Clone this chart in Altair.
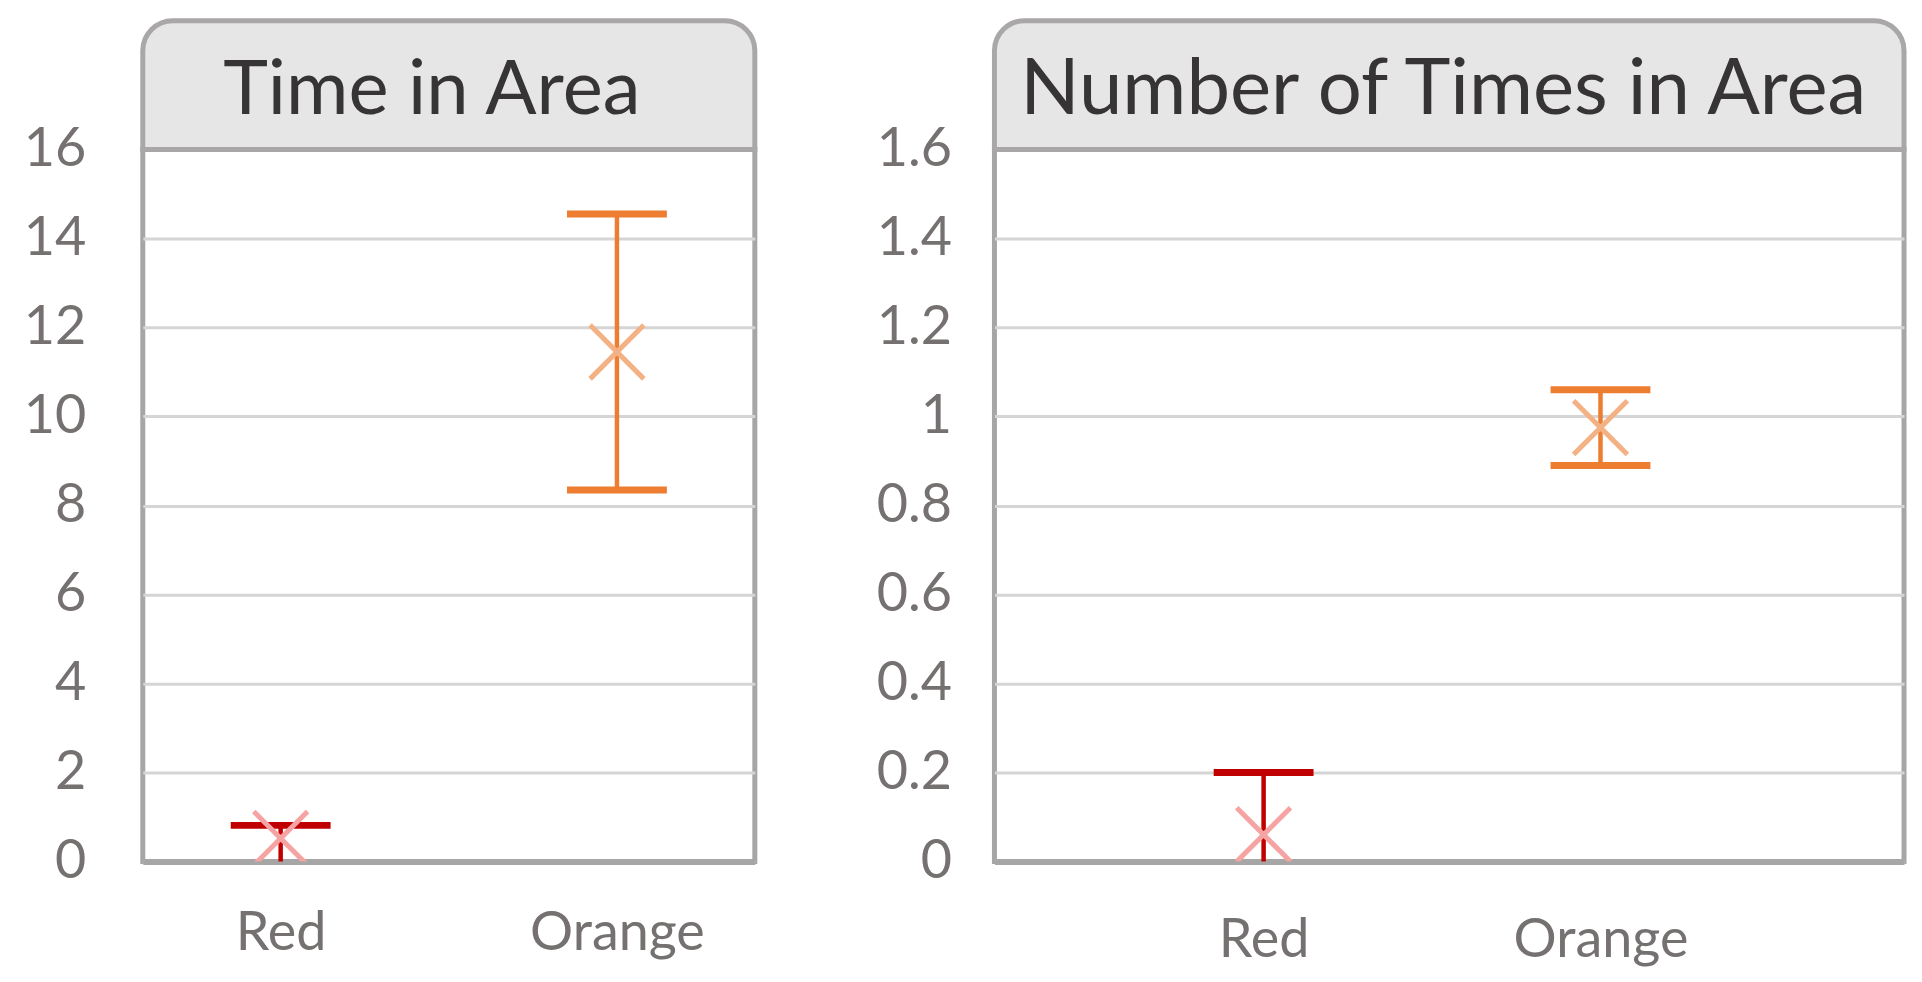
import altair as alt
import pandas as pd

categories = ["Red", "Orange"]
bar_colors = ["#C00000", "#ED7D31"]
marker_colors = ["#F6A3A3", "#F4B183"]

# Panel 1: Time in Area
time_mean = [0.52, 11.45]
time_low = [-0.1, 8.35]
time_high = [0.81, 14.55]
time_ticks = [0, 2, 4, 6, 8, 10, 12, 14, 16]

# Panel 2: Number of Times in Area
count_mean = [0.06, 0.975]
count_low = [-0.08, 0.89]
count_high = [0.20, 1.06]
count_ticks = [0, 0.2, 0.4, 0.6, 0.8, 1.0, 1.2, 1.4, 1.6]

titles = ["Time in Area", "Number of Times in Area"]

FONT = "Lato"
LABEL_COLOR = "#767171"
FRAME = "#A6A6A6"
H = 713
HEADER_H = 129


def panel(mean, low, high, ticks, title, width, xpad, xalign, ylabpad, xlabpad, title_dx, title_size):
    df = pd.DataFrame({
        "cat": categories, "mean": mean, "low": low, "high": high,
        "bar": bar_colors, "mark": marker_colors,
    })
    hdf = pd.DataFrame({"title": [title]})
    xenc = alt.X(
        "cat:N", sort=categories,
        scale=alt.Scale(type="point", padding=xpad, align=xalign),
        axis=alt.Axis(title=None, labelAngle=0, labelPadding=xlabpad, ticks=False,
                      grid=False, domain=True, domainColor=FRAME, domainWidth=6,
                      labelFont=FONT, labelFontSize=54, labelColor=LABEL_COLOR),
    )
    yscale = alt.Scale(domain=[0, ticks[-1]], nice=False, zero=True)
    yaxis = alt.Axis(title=None, values=ticks, format="~g", ticks=False,
                     domain=False, grid=True, gridColor="#D5D5D5", gridWidth=3,
                     labelPadding=ylabpad, labelFont=FONT, labelFontSize=54,
                     labelColor=LABEL_COLOR)

    header = alt.Chart(hdf).mark_rect(
        fill="#E7E6E6", stroke="#A9A7A7", strokeWidth=5, opacity=1,
        cornerRadiusTopLeft=30, cornerRadiusTopRight=30,
    ).encode(x=alt.value(0), x2=alt.value(width), y=alt.value(-HEADER_H), y2=alt.value(0))
    header_text = alt.Chart(hdf).mark_text(
        font=FONT, fontSize=title_size, color="#363434", baseline="alphabetic",
        align="center", dx=title_dx,
    ).encode(x=alt.value(width / 2), y=alt.value(-36), text="title:N")

    base = alt.Chart(df)
    stem = base.mark_rule(strokeWidth=4.5, opacity=1, clip=True).encode(
        x=xenc, y=alt.Y("low:Q", scale=yscale, axis=yaxis), y2="high:Q",
        color=alt.Color("bar:N", scale=None),
    )
    cap_hi = base.mark_tick(thickness=7, size=100, opacity=1, clip=True).encode(
        x=xenc, y=alt.Y("high:Q", scale=yscale, axis=yaxis),
        color=alt.Color("bar:N", scale=None),
    )
    cap_lo = base.mark_tick(thickness=7, size=100, opacity=1, clip=True).encode(
        x=xenc, y=alt.Y("low:Q", scale=yscale, axis=yaxis),
        color=alt.Color("bar:N", scale=None),
    )
    pts = base.mark_point(
        shape="M-1,-1L1,1M-1,1L1,-1", filled=False, size=2900, strokeWidth=5,
        opacity=1, clip=True,
    ).encode(
        x=xenc, y=alt.Y("mean:Q", scale=yscale, axis=yaxis),
        stroke=alt.Stroke("mark:N", scale=None),
    )
    return alt.layer(stem, cap_hi, cap_lo, pts, header, header_text).properties(
        width=width, height=H,
        view=alt.ViewBackground(stroke=FRAME, strokeWidth=5, fill="white"),
    )


left = panel(time_mean, time_low, time_high, time_ticks, titles[0], 613,
             0.41, 0.5, 57, 45, -17, 76)
right = panel(count_mean, count_low, count_high, count_ticks, titles[1], 911,
              0.85, 0.47, 43, 52, -6, 78)

chart = alt.hconcat(left, right, spacing=114).properties(
    padding={"top": 7, "left": 12, "right": 5, "bottom": 5}
).configure(background="white")

chart.save("out.html", embed_options={"renderer": "svg", "actions": False})
